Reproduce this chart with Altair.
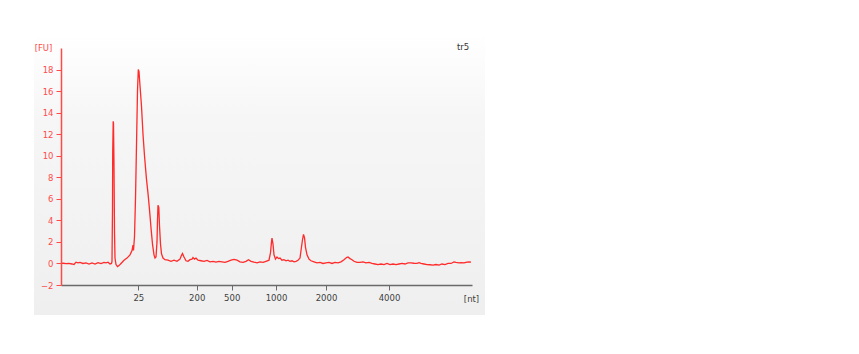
import altair as alt
import pandas as pd

# Migration time (s) and fluorescence (FU)
time_s = [20.0, 20.2, 20.5, 20.8, 21.1, 21.3, 21.5, 21.7, 21.9, 22.2, 22.5, 22.8, 23.1, 23.4,
          23.7, 24.0, 24.3, 24.5, 24.7, 24.9, 25.05, 25.10, 25.15, 25.17, 25.22, 25.25, 25.30,
          25.35, 25.40, 25.50, 25.65, 25.8, 26.0, 26.3, 26.6, 26.9, 27.1, 27.2, 27.25, 27.35,
          27.45, 27.55, 27.65, 27.73, 27.8, 27.9, 28.05, 28.2, 28.35, 28.55, 28.7, 28.85, 29.0,
          29.15, 29.3, 29.4, 29.5, 29.6, 29.65, 29.7, 29.78, 29.85, 29.95, 30.05, 30.2, 30.4,
          30.7, 31.0, 31.3, 31.6, 31.9, 32.05, 32.15, 32.3, 32.5, 32.7, 32.9, 33.1, 33.2, 33.35,
          33.5, 33.7, 34.0, 34.3, 34.6, 34.9, 35.2, 35.5, 35.8, 36.1, 36.4, 36.7, 37.0, 37.3,
          37.6, 37.9, 38.2, 38.5, 38.75, 39.0, 39.3, 39.6, 39.9, 40.2, 40.5, 40.8, 40.95, 41.05,
          41.1, 41.2, 41.3, 41.45, 41.6, 41.75, 41.9, 42.1, 42.3, 42.5, 42.7, 42.9, 43.1, 43.3,
          43.5, 43.7, 43.9, 44.0, 44.15, 44.25, 44.35, 44.45, 44.6, 44.8, 45.0, 45.3, 45.6, 45.9,
          46.2, 46.5, 46.8, 47.1, 47.4, 47.7, 48.0, 48.3, 48.55, 48.7, 48.9, 49.1, 49.3, 49.6,
          49.9, 50.2, 50.5, 50.8, 51.1, 51.4, 51.7, 52.0, 52.3, 52.6, 52.9, 53.2, 53.5, 53.8,
          54.1, 54.4, 54.7, 55.0, 55.3, 55.6, 55.8, 56.0, 56.3, 56.6, 56.9, 57.2, 57.5, 57.8,
          58.1, 58.4, 58.7, 59.0, 59.3, 59.5, 59.8, 60.0, 60.3, 60.6, 60.8, 61.0]
fu = [0.0, 0.02, -0.02, 0.0, -0.05, -0.1, 0.12, 0.05, 0.1, 0.0, 0.05, -0.05, 0.05, -0.05,
      0.08, -0.02, 0.1, 0.05, 0.12, -0.05, 0.0, 0.2, 5.0, 10.2, 13.2, 13.0, 9.0,
      3.0, 0.5, -0.1, -0.3, -0.2, 0.0, 0.3, 0.5, 0.8, 1.2, 1.7, 1.2, 2.5,
      6.0, 11.0, 16.0, 18.0, 17.8, 16.5, 14.6, 12.0, 10.0, 7.8, 6.5, 5.0, 3.3,
      1.8, 0.8, 0.5, 0.6, 2.0, 4.0, 5.4, 5.2, 3.5, 1.8, 0.9, 0.5, 0.35,
      0.3, 0.2, 0.3, 0.2, 0.4, 0.75, 0.92, 0.6, 0.25, 0.2, 0.35, 0.4, 0.55, 0.4,
      0.5, 0.3, 0.25, 0.2, 0.28, 0.15, 0.2, 0.12, 0.2, 0.15, 0.1, 0.2, 0.3, 0.38,
      0.3, 0.15, 0.1, 0.2, 0.35, 0.2, 0.12, 0.05, 0.15, 0.1, 0.2, 0.3, 1.0, 2.0,
      2.35, 1.8, 0.8, 0.4, 0.6, 0.45, 0.5, 0.3, 0.35, 0.25, 0.3, 0.2, 0.25, 0.15,
      0.2, 0.3, 0.5, 1.2, 2.2, 2.7, 2.4, 1.5, 0.8, 0.4, 0.25, 0.15, 0.05, 0.1,
      0.0, 0.05, 0.1, 0.0, 0.1, 0.05, 0.15, 0.35, 0.55, 0.6, 0.45, 0.35, 0.2, 0.1,
      0.1, 0.15, 0.05, 0.1, 0.0, -0.05, -0.1, -0.05, -0.1, 0.0, -0.1, -0.05, -0.1, -0.05,
      0.0, -0.05, 0.05, 0.05, 0.02, 0.0, 0.08, 0.0, -0.05, -0.1, -0.12, -0.15, -0.1, -0.15,
      -0.05, -0.1, 0.0, 0.0, 0.15, 0.1, 0.05, 0.08, 0.05, 0.12, 0.15, 0.12]

# Ladder: size labels (nt) at their migration times (s)
ladder_nt = ["25", "200", "500", "1000", "2000", "4000"]
ladder_time = [27.73, 33.57, 37.07, 41.5, 46.5, 52.8]

y_ticks = [-2, 0, 2, 4, 6, 8, 10, 12, 14, 16, 18]

df = pd.DataFrame({"time": time_s, "fu": fu})

label_expr = "".join(
    f"abs(datum.value - {t}) < 0.01 ? '{n}' : " for t, n in zip(ladder_time, ladder_nt)
) + "''"

FONT = "DejaVu Sans"
RED = "#ff4a4a"

panel = alt.Chart(df).mark_rect(
    clip=False,
    color=alt.Gradient(
        gradient="linear", x1=0, y1=0, x2=0, y2=1,
        stops=[alt.GradientStop(color="#ffffff", offset=0),
               alt.GradientStop(color="#f6f6f6", offset=0.3),
               alt.GradientStop(color="#efefef", offset=1)],
    ),
).encode(
    x=alt.value(-27), x2=alt.value(424), y=alt.value(-14), y2=alt.value(267)
)

line = alt.Chart(df).mark_line(color="#ff2a2a", strokeWidth=1.3, clip=True).encode(
    x=alt.X("time:Q", scale=alt.Scale(domain=[20, 61.1], nice=False, zero=False),
            axis=alt.Axis(values=ladder_time, labelExpr=label_expr, grid=False, zindex=1,
                          domainColor="#6a6a6a", domainWidth=1.5, tickColor="#6a6a6a",
                          tickSize=5, labelColor="#404040", labelFont=FONT, labelFontSize=8.5,
                          labelPadding=3, title="[nt]", titleFont=FONT, titleFontSize=8.5,
                          titleFontWeight="normal", titleColor="#404040", titleAngle=0,
                          titleX=410, titleY=13, titleAlign="center", titleBaseline="middle",
                          labelFlush=False)),
    y=alt.Y("fu:Q", scale=alt.Scale(domain=[-2, 20], nice=False, zero=False),
            axis=alt.Axis(values=y_ticks, grid=False, domainColor=RED, domainWidth=1.5,
                          zindex=1,
                          tickColor=RED, tickSize=5, labelColor=RED, labelFont=FONT,
                          labelFontSize=8.5, labelPadding=3, title="[FU]", titleFont=FONT,
                          titleFontSize=8.5, titleFontWeight="normal", titleColor=RED,
                          titleAngle=0, titleX=-18, titleY=-1, titleAlign="center",
                          titleBaseline="middle")),
)

tag = alt.Chart(pd.DataFrame({"t": ["tr5"]})).mark_text(
    font=FONT, fontSize=8.5, color="#333333", align="center", baseline="middle"
).encode(text="t:N", x=alt.value(402), y=alt.value(-1))

chart = alt.layer(panel, line, tag).properties(
    width=411, height=237,
    autosize=alt.AutoSizeParams(type="none"),
    padding={"left": 61, "top": 48, "right": 387, "bottom": 69},
    background="white",
).configure_view(stroke=None)

chart.save("out.html", embed_options={"renderer": "svg", "actions": False})
